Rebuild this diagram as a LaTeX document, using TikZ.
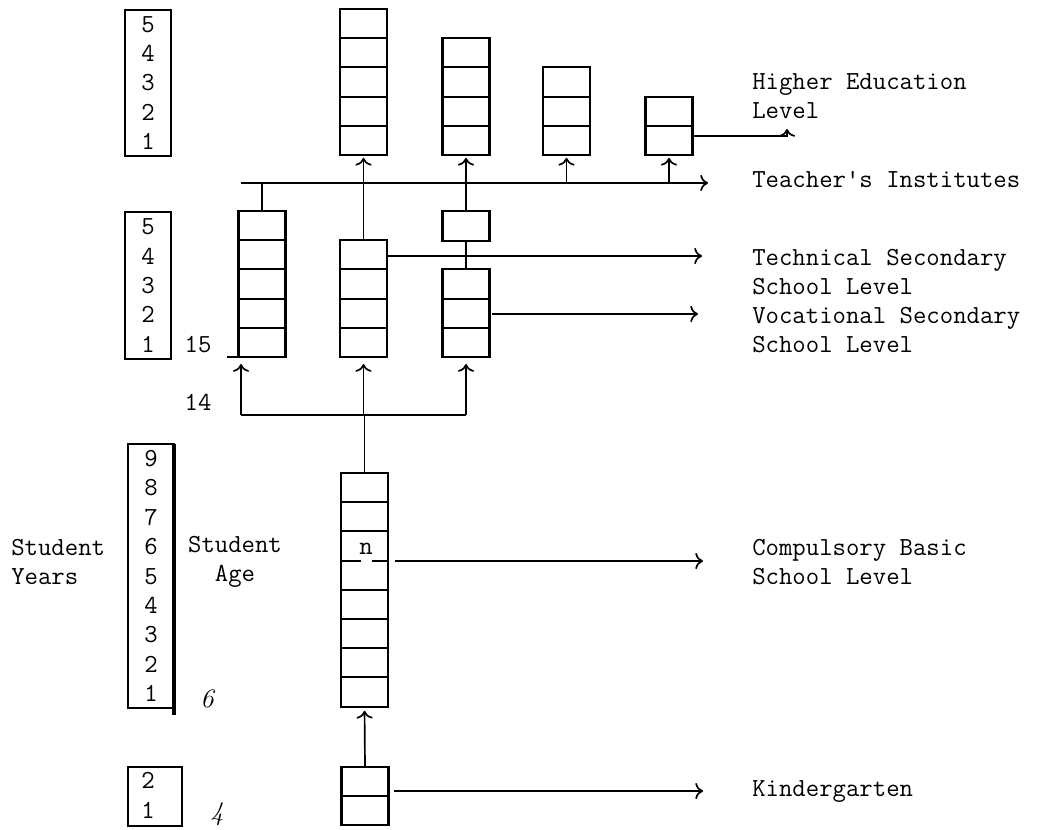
\documentclass[tikz,border=0pt]{standalone}
\usepackage{fontspec}
\usetikzlibrary{arrows.meta}

\begin{document}
\begin{tikzpicture}[x=0.025cm, y=-0.025cm, >={To[scale=1.3]}]
\tikzstyle{cell}    = [rectangle, draw=black, line width=1.5pt, minimum width=1.175cm, minimum height=0.73cm, inner sep=0pt, outer sep=0pt]
\tikzstyle{yearbox} = [rectangle, draw=black, line width=1.5pt, inner sep=0pt, outer sep=0pt, align=center, font=\ttfamily\fontsize{18.5}{20.9}\selectfont]
\tikzstyle{lbl}     = [anchor=west, align=left, inner sep=0pt, font=\ttfamily\fontsize{18.5}{20.6}\selectfont]
\tikzstyle{num}     = [inner sep=0pt, font=\ttfamily\fontsize{18.5}{20.6}\selectfont]
\tikzstyle{hand}    = [inner sep=0pt, font=\rmfamily\itshape\fontsize{19}{22}\selectfont]
\tikzstyle{link}    = [line width=1.2pt]
\useasboundingbox (0,0) rectangle (1049,829);
% year scales
\node[yearbox, minimum width=1.15cm, minimum height=3.65cm] at (148,83) (sc_hi) {5\\4\\3\\2\\1};
\node[yearbox, minimum width=1.15cm, minimum height=3.675cm] at (148,285.5) (sc_se) {5\\4\\3\\2\\1};
\node[yearbox, minimum width=1.15cm, minimum height=6.6cm] at (151,576) (sc_ba) {9\\8\\7\\6\\5\\4\\3\\2\\1};
\node[yearbox, minimum width=1.35cm, minimum height=1.475cm] at (155,796.5) (sc_kg) {};
\node[num, align=center, font=\ttfamily\fontsize{18.5}{21.5}\selectfont] at (148,795) (nm_kg) {2\\1};
\draw[line width=2.2pt] (sc_ba.north east) -- ([yshift=-0.18cm]sc_ba.south east);
% left texts
\node[lbl] at (11,562) (lb_yr) {Student\\Years};
\node[num, align=center] at (235,562) (lb_ag) {Student\\Age};
\node[num] at (198,345) (lb_15) {15};
\node[num] at (198,402) (lb_14) {14};
\node[hand] at (207,699) (lb_6) {6};
\node[hand] at (217,814) (lb_4) {4};
% higher education
\node[cell] at (363.5, 23.6) (hi_0_0) {};
\node[cell] at (363.5, 52.8) (hi_0_1) {};
\node[cell] at (363.5, 82.0) (hi_0_2) {};
\node[cell] at (363.5,111.2) (hi_0_3) {};
\node[cell] at (363.5,140.4) (hi_0_4) {};
\node[cell] at (466.0, 52.8) (hi_1_0) {};
\node[cell] at (466.0, 82.0) (hi_1_1) {};
\node[cell] at (466.0,111.2) (hi_1_2) {};
\node[cell] at (466.0,140.4) (hi_1_3) {};
\node[cell] at (566.5, 82.0) (hi_2_0) {};
\node[cell] at (566.5,111.2) (hi_2_1) {};
\node[cell] at (566.5,140.4) (hi_2_2) {};
\node[cell] at (669.0,111.2) (hi_3_0) {};
\node[cell] at (669.0,140.4) (hi_3_1) {};
% secondary
\node[cell] at (262.0,225.6) (se_0_0) {};
\node[cell] at (262.0,254.8) (se_0_1) {};
\node[cell] at (262.0,284.0) (se_0_2) {};
\node[cell] at (262.0,313.2) (se_0_3) {};
\node[cell] at (262.0,342.4) (se_0_4) {};
\node[cell] at (363.5,254.8) (se_1_0) {};
\node[cell] at (363.5,284.0) (se_1_1) {};
\node[cell] at (363.5,313.2) (se_1_2) {};
\node[cell] at (363.5,342.4) (se_1_3) {};
\node[cell] at (466.0,226.0) (se_2_0) {};
\node[cell] at (466.0,284.0) (se_3_0) {};
\node[cell] at (466.0,313.2) (se_3_1) {};
\node[cell] at (466.0,342.4) (se_3_2) {};
\draw[line width=1.5pt] (se_0_4.south west) -- ++(-11,0);
% basic school
\node[cell] at (364.5,487.6) (ba_0_0) {};
\node[cell] at (364.5,516.8) (ba_0_1) {};
\node[cell] at (364.5,546.0) (ba_0_2) {};
\node[cell] at (364.5,575.2) (ba_0_3) {};
\node[cell] at (364.5,604.4) (ba_0_4) {};
\node[cell] at (364.5,633.6) (ba_0_5) {};
\node[cell] at (364.5,662.8) (ba_0_6) {};
\node[cell] at (364.5,692.0) (ba_0_7) {};
\draw[white, line width=2.5pt] (361,560.6) -- (372,560.6);
\node[num] at (366,549) (lb_n) {n};
% kindergarten
\node[cell] at (365.0,781.6) (kg_0_0) {};
\node[cell] at (365.0,810.8) (kg_0_1) {};
% right texts
\node[lbl] at (752, 96) (lb_he) {Higher Education\\Level};
\node[lbl] at (752,180) (lb_ti) {Teacher\textquotesingle s Institutes};
\node[lbl] at (752,272) (lb_ts) {Technical Secondary\\School Level};
\node[lbl] at (752,330) (lb_vs) {Vocational Secondary\\School Level};
\node[lbl] at (752,562) (lb_cb) {Compulsory Basic\\School Level};
\node[lbl] at (752,792) (lb_kg) {Kindergarten};
% connectors
\coordinate (te_w) at (241,183);
\coordinate (te_e) at (708,183);
\coordinate (br_w) at (241,415);
\coordinate (br_e) at (466,415);
\coordinate (hk_e) at (787,136);
\coordinate (tc_e) at (702,256);
\coordinate (vc_e) at (698,314);
\coordinate (cb_e) at (703,561);
\coordinate (kg_e) at (703,791);
\draw[link, ->] (te_w) -- (te_e);
\draw[link] (se_0_0.north) -- (se_0_0.north |- te_w);
\draw[link, ->, shorten >=2pt] (se_1_0.north) -- (hi_0_4.south);
\draw[link, ->, shorten >=2pt] (se_2_0.north) -- (hi_1_3.south);
\draw[link, ->, shorten >=2pt] (hi_2_2.south |- te_w) -- (hi_2_2.south);
\draw[link, ->, shorten >=2pt] (hi_3_1.south |- te_w) -- (hi_3_1.south);
\draw[link, ->] (hi_3_1.east |- hk_e) -- (hk_e) -- ++(0,-7);
\draw[link] (se_2_0.south) -- (se_3_0.north);
\draw[link, ->] (se_1_0.east |- tc_e) -- (tc_e);
\draw[link, ->, shorten <=2pt] (se_3_1.east |- vc_e) -- (vc_e);
\draw[link] (br_w) -- (br_e);
\draw[link, ->, shorten >=5pt] (br_w) -- (br_w |- se_0_4.south);
\draw[link, ->, shorten >=5pt] (br_w -| se_1_3.south) -- (se_1_3.south);
\draw[link, ->, shorten >=5pt] (br_e) -- (br_e |- se_3_2.south);
\draw[link] (ba_0_0.north) -- (ba_0_0.north |- br_w);
\draw[link, ->, shorten >=3pt] (kg_0_0.north) -- (ba_0_7.south);
\draw[link, ->, shorten <=5pt] (ba_0_2.east |- cb_e) -- (cb_e);
\draw[link, ->, shorten <=4pt] (kg_0_0.east |- kg_e) -- (kg_e);
\end{tikzpicture}
\end{document}
